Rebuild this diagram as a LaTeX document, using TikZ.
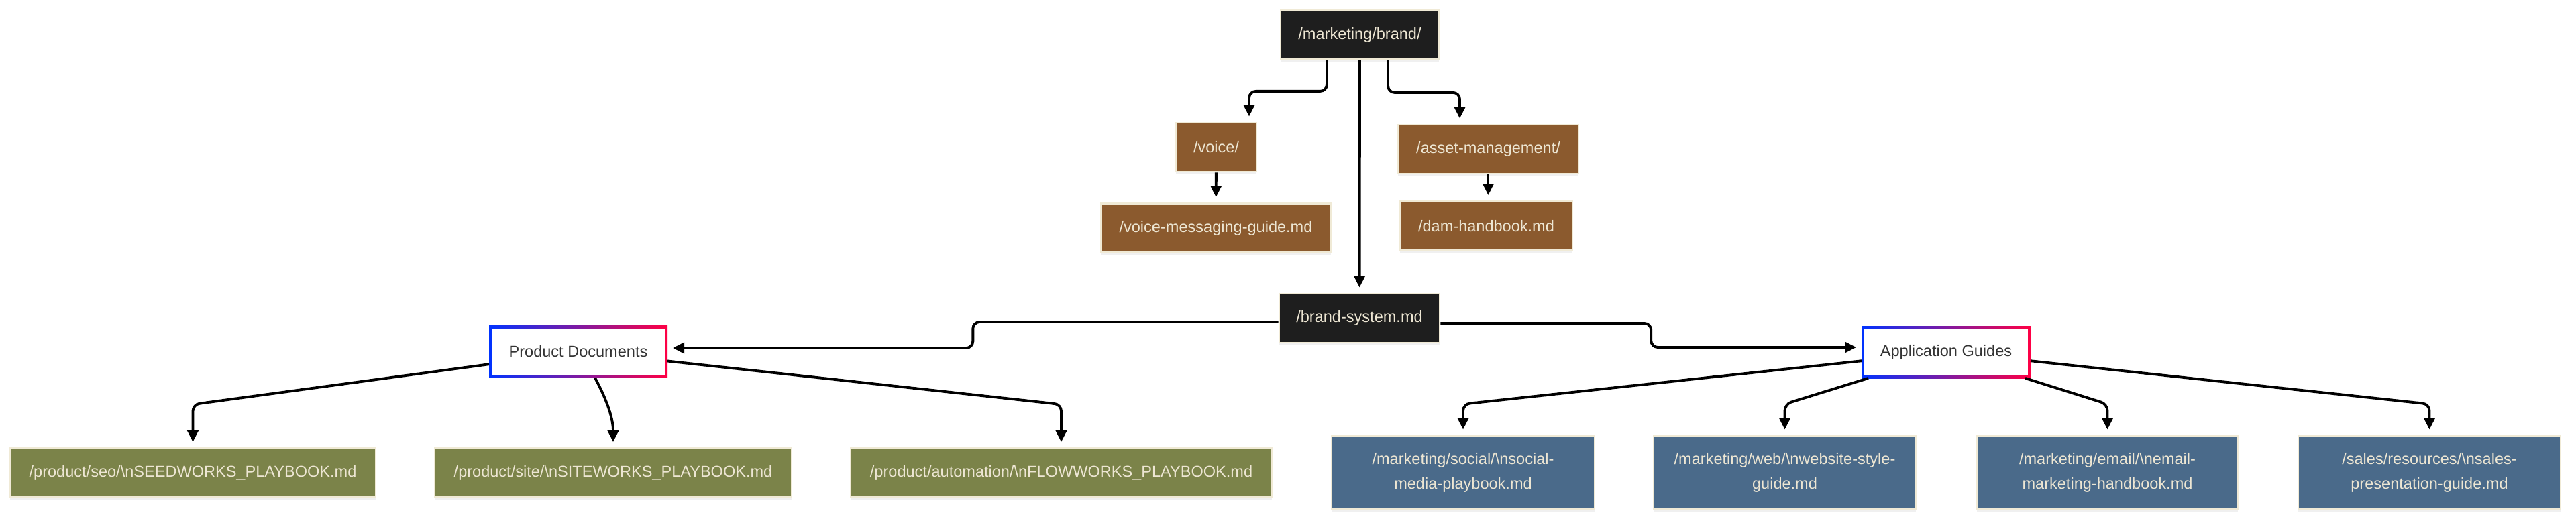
\documentclass[tikz,border=0pt]{standalone}
\usepackage{fontspec}
\setmainfont{Liberation Sans}
\usepackage{tikz}
\usetikzlibrary{calc,backgrounds,shadows,arrows.meta}
\usepackage{xcolor}
\definecolor{rootblack}{HTML}{1E1E1E}
\definecolor{dirbrown}{HTML}{8B5A2E}
\definecolor{prodgreen}{HTML}{7B8349}
\definecolor{appblue}{HTML}{4A6A8A}
\definecolor{edgecream}{HTML}{F0EAD6}
\definecolor{txtcream}{HTML}{EDE6D3}
\definecolor{txtgray}{HTML}{333333}
\definecolor{gblue}{HTML}{0033FF}
\definecolor{gred}{HTML}{FF0044}

\begin{document}
\begin{tikzpicture}[>={Triangle[length=1.7mm,width=1.6mm]},
  base/.style={rectangle, draw=edgecream, line width=0.8pt, text=txtcream, inner sep=0pt,
    font=\fontsize{6.7}{10.5}\selectfont, minimum height=0.73cm,
    drop shadow={opacity=0.12, shadow xshift=0cm, shadow yshift=-0.04cm}},
  rootbox/.style={base, fill=rootblack},
  dirbox/.style={base, fill=dirbrown},
  prodbox/.style={base, fill=prodgreen},
  appbox/.style={base, fill=appblue, minimum height=1.09cm, align=center},
  groupbox/.style={rectangle, fill=white, text=txtgray, inner sep=0pt, outer sep=0.04cm,
    font=\fontsize{6.7}{10.5}\selectfont, minimum height=0.70cm},
  link/.style={->, line width=1.1pt, rounded corners=0.1cm, shorten >=0.08cm}]
  \useasboundingbox (0,0) rectangle (38.4,-7.76);

  % top of the tree
  \node[rootbox, minimum width=2.36cm] (brand) at (20.27,-0.52) {/marketing/brand/};
  \node[dirbox, minimum width=1.2cm] (voice) at (18.13,-2.195) {/voice/};
  \node[dirbox, minimum width=3.43cm] (vmg) at (18.125,-3.40) {/voice-messaging-guide.md};
  \node[dirbox, minimum width=2.69cm] (asset) at (22.185,-2.225) {/asset-management/};
  \node[dirbox, minimum width=2.57cm] (dam) at (22.155,-3.37) {/dam-handbook.md};
  \node[rootbox, minimum width=2.39cm] (bsys) at (20.265,-4.745) {/brand-system.md};

  % groups
  \node[groupbox, minimum width=2.58cm] (PD) at (8.62,-5.245) {Product Documents};
  \node[groupbox, minimum width=2.44cm] (AG) at (29.01,-5.25) {Application Guides};
  \begin{scope}[on background layer]
    \shade[left color=gblue, right color=gred] (PD.north west) rectangle (PD.south east);
    \shade[left color=gblue, right color=gred] (AG.north west) rectangle (AG.south east);
  \end{scope}

  % product files
  \node[prodbox, minimum width=5.45cm] (seo) at (2.875,-7.05) {/product/seo/\textbackslash nSEEDWORKS\_PLAYBOOK.md};
  \node[prodbox, minimum width=5.32cm] (site) at (9.14,-7.05) {/product/site/\textbackslash nSITEWORKS\_PLAYBOOK.md};
  \node[prodbox, minimum width=6.28cm] (flow) at (15.82,-7.05) {/product/automation/\textbackslash nFLOWWORKS\_PLAYBOOK.md};

  % application files
  \node[appbox, minimum width=3.92cm] (social) at (21.81,-7.045) {/marketing/social/\textbackslash nsocial-\\media-playbook.md};
  \node[appbox, minimum width=3.91cm] (web) at (26.605,-7.045) {/marketing/web/\textbackslash nwebsite-style-\\guide.md};
  \node[appbox, minimum width=3.89cm] (email) at (31.415,-7.045) {/marketing/email/\textbackslash nemail-\\marketing-handbook.md};
  \node[appbox, minimum width=3.91cm] (sales) at (36.215,-7.045) {/sales/resources/\textbackslash nsales-\\presentation-guide.md};

  \draw[link] ([xshift=-0.49cm]brand.south) -- ++(0,-0.46) -| ([xshift=0.49cm]voice.north);
  \draw[link] ([xshift=0.42cm]brand.south) -- ++(0,-0.48) -| ([xshift=-0.425cm]asset.north);
  \draw[link] (voice) -- (vmg);
  \draw[link] (asset.south) -- (asset.south |- dam.north);
  \draw[link] (brand) -- (bsys);

  \draw[link] ([yshift=-0.055cm]bsys.west) -| ($(bsys.west)!0.5!(PD.east)$) |- ([yshift=0.055cm]PD.east);
  \draw[link] ([yshift=-0.075cm]bsys.east) -| ($(bsys.east)!0.5!(AG.west)$) |- ([yshift=0.07cm]AG.west);

  \draw[link] (PD.188) -- ([yshift=0.64cm]seo.north) -- (seo.north);
  \draw[link] ([xshift=0.25cm]PD.south) to[out=-62,in=90] (site.north);
  \draw[link] (PD.-6) -- ([yshift=0.64cm]flow.north) -- (flow.north);

  \draw[link] (AG.186) -- ([yshift=0.46cm]social.north) -- (social.north);
  \draw[link] ([xshift=0.1cm]AG.south west) -- ([yshift=0.46cm]web.north) -- (web.north);
  \draw[link] ([xshift=-0.08cm]AG.south east) -- ([yshift=0.46cm]email.north) -- (email.north);
  \draw[link] (AG.-6) -- ([yshift=0.46cm]sales.north) -- (sales.north);
\end{tikzpicture}
\end{document}
